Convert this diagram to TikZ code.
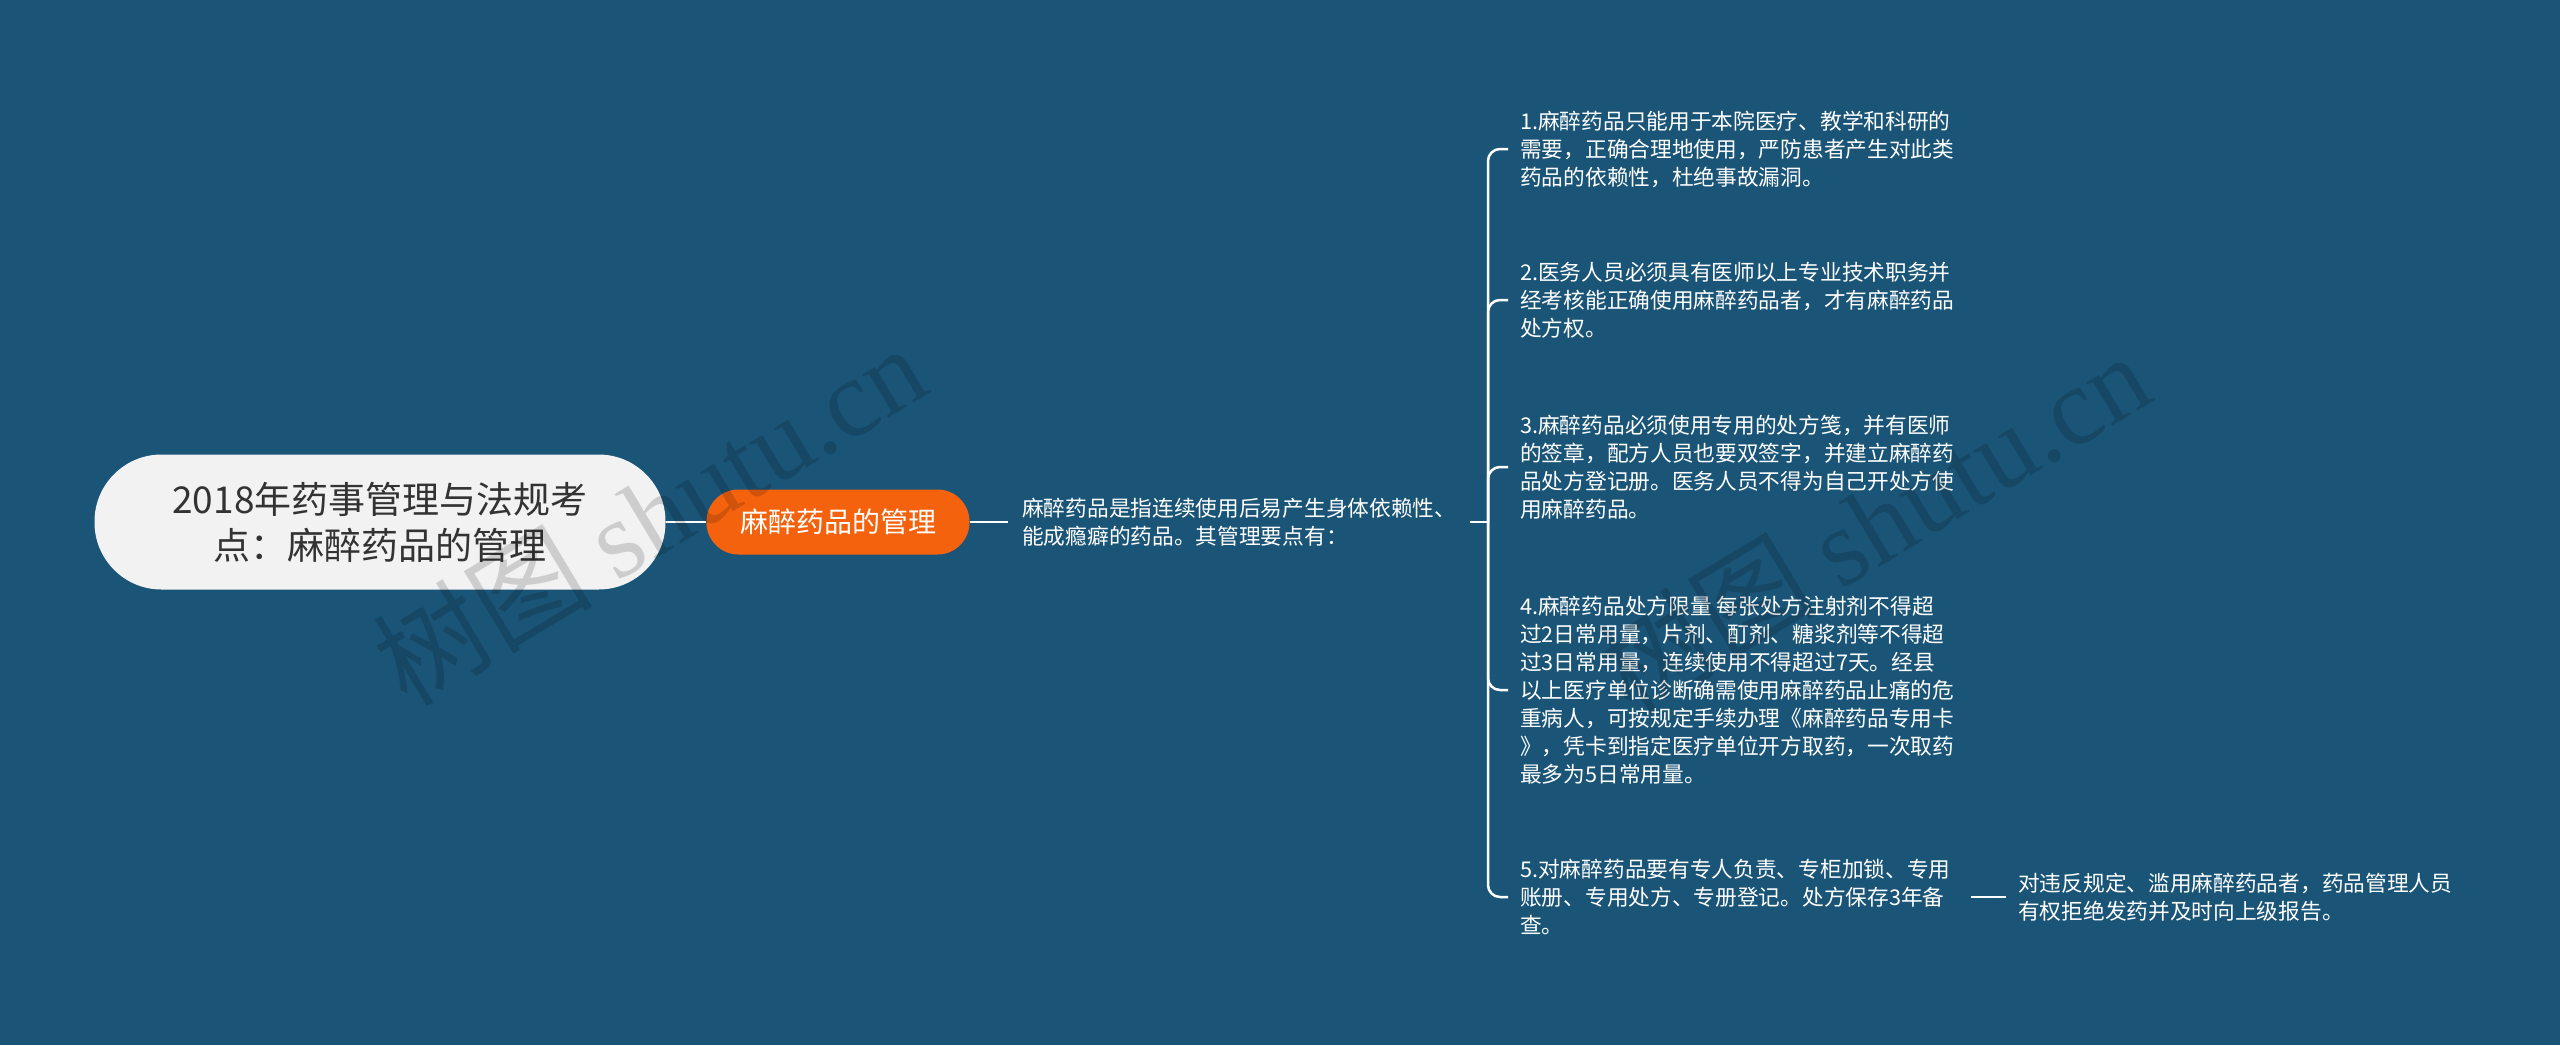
\documentclass[tikz,border=0pt]{standalone}
\usepackage{fontspec}
\setmainfont{Noto Sans CJK SC}
\newfontfamily\wmfont{Liberation Serif}
\usepackage{tikz}

\definecolor{bgblue}{RGB}{26,85,120}
\definecolor{rootgray}{RGB}{242,242,242}
\definecolor{topicorange}{RGB}{245,98,14}
\definecolor{darktext}{RGB}{51,51,51}

\begin{document}
\begin{tikzpicture}[x=1pt, y=-1pt,
    root/.style = {fill=rootgray, text=darktext, rounded corners=67pt, minimum width=571pt, minimum height=135pt, align=center, font=\fontsize{37}{46}\selectfont},
    topic/.style = {fill=topicorange, text=white, rounded corners=32pt, minimum width=263pt, minimum height=65pt, font=\fontsize{28}{34}\selectfont},
    note/.style = {text=white, align=left, anchor=west, inner xsep=12pt, font=\fontsize{21.7}{28}\selectfont},
    link/.style = {draw=white, line width=2.5pt},
    wm/.style = {text=black, opacity=0.15, text opacity=0.15, rotate=31, font=\fontsize{110}{112}\selectfont}]
    \useasboundingbox (0, 0) rectangle (2560, 1045);
    \fill[bgblue] (0, 0) rectangle (2560, 1045);

    \node[root] at (380, 522) (root) {2018年药事管理与法规考\\点：麻醉药品的管理};
    \node[topic] at (838, 522) (topic) {麻醉药品的管理};
    \node[note, inner xsep=14pt] at (1008, 522) (desc) {麻醉药品是指连续使用后易产生身体依赖性、\\能成瘾癖的药品。其管理要点有：};
    \coordinate (hub) at (1488, 522);

    \node[note] at (1508, 149) (i1) {1.麻醉药品只能用于本院医疗、教学和科研的\\需要，正确合理地使用，严防患者产生对此类\\药品的依赖性，杜绝事故漏洞。};
    \node[note] at (1508, 300) (i2) {2.医务人员必须具有医师以上专业技术职务并\\经考核能正确使用麻醉药品者，才有麻醉药品\\处方权。};
    \node[note] at (1508, 467) (i3) {3.麻醉药品必须使用专用的处方笺，并有医师\\的签章，配方人员也要双签字，并建立麻醉药\\品处方登记册。医务人员不得为自己开处方使\\用麻醉药品。};
    \node[note] at (1508, 690) (i4) {4.麻醉药品处方限量 每张处方注射剂不得超\\过2日常用量，片剂、酊剂、糖浆剂等不得超\\过3日常用量，连续使用不得超过7天。经县\\以上医疗单位诊断确需使用麻醉药品止痛的危\\重病人，可按规定手续办理《麻醉药品专用卡\\》，凭卡到指定医疗单位开方取药，一次取药\\最多为5日常用量。};
    \node[note] at (1508, 897) (i5) {5.对麻醉药品要有专人负责、专柜加锁、专用\\账册、专用处方、专册登记。处方保存3年备\\查。};
    \node[note] at (2006, 897) (leaf) {对违反规定、滥用麻醉药品者，药品管理人员\\有权拒绝发药并及时向上级报告。};

    \draw[link] (root) -- (topic);
    \draw[link] (topic) -- (desc);
    \draw[link] (desc) -- (hub);
    \foreach \n in {i1, i2, i3, i4, i5}
        \draw[link, rounded corners=12pt] (hub) |- (\n.west);
    \draw[link, shorten <=8pt] (i5.east) -- (leaf.west);

    \node[wm] at (649, 514) (wm1) {树图 {\wmfont shutu.cn}};
    \node[wm] at (1873, 522) (wm2) {树图 {\wmfont shutu.cn}};
\end{tikzpicture}
\end{document}
